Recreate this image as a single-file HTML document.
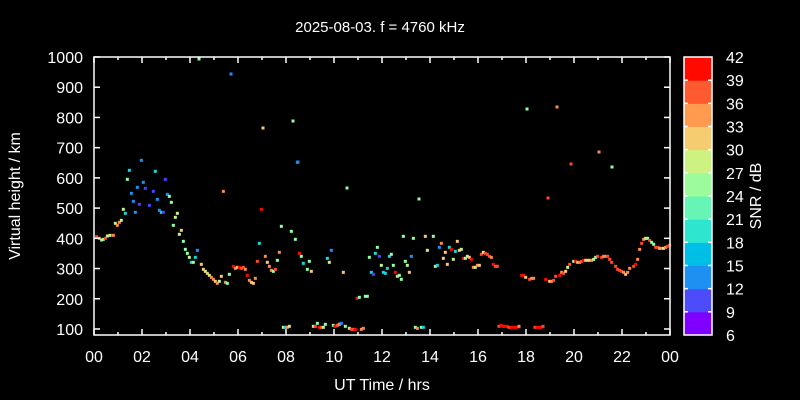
<!DOCTYPE html>
<html><head><meta charset="utf-8"><style>
html,body{margin:0;padding:0;background:#000;}
svg{display:block;font-family:"Liberation Sans",sans-serif;}
</style></head><body>
<svg id="s" width="800" height="400" xmlns="http://www.w3.org/2000/svg">
<rect width="800" height="400" fill="#000"/>
<text x="380" y="32" fill="#fff" font-size="15" text-anchor="middle">2025-08-03. f = 4760 kHz</text>
<text x="382" y="390" fill="#fff" font-size="16" text-anchor="middle">UT Time / hrs</text>
<text transform="translate(20,196) rotate(-90)" fill="#fff" font-size="16" text-anchor="middle">Virtual height / km</text>
<text transform="translate(761,196) rotate(-90)" fill="#fff" font-size="16" text-anchor="middle">SNR / dB</text>
<g id="pts"></g>
<g id="ax" stroke="#fff" stroke-width="1.5" fill="none"></g>
<g id="lab" fill="#fff" font-size="16"></g>
</svg>
<script>
var NS="http://www.w3.org/2000/svg";
function el(t,a,p){var e=document.createElementNS(NS,t);for(var k in a)e.setAttribute(k,a[k]);p.appendChild(e);return e;}
var ax=document.getElementById('ax'),lab=document.getElementById('lab'),pts=document.getElementById('pts');
var L=94,R=670,T=57,B=335;
el('rect',{x:L,y:T,width:R-L,height:B-T},ax);
for(var v=100;v<=1000;v+=100){var y=57+(1000-v)*0.3022;
 el('line',{x1:L,y1:y,x2:L+6,y2:y},ax);el('line',{x1:R,y1:y,x2:R-6,y2:y},ax);
 var t=el('text',{x:83,y:y+6,'text-anchor':'end'},lab);t.textContent=v;}
for(var h=0;h<=24;h++){var x=L+h*24,len=h%2?3:6;
 el('line',{x1:x,y1:B,x2:x,y2:B-len},ax);el('line',{x1:x,y1:T,x2:x,y2:T+len},ax);
 if(h%2==0){var t=el('text',{x:x,y:362,'text-anchor':'middle'},lab);t.textContent=('0'+(h%24)).slice(-2);}}
var cb=["#7f00ff","#4c4cfb","#1e90f2","#00bfe6","#2ee6d0","#66f5b5","#9cfc9c","#cdf282","#f6cc70","#ff9a4e","#ff5a30","#ff0a00"];
var bh=(B-57)/12;
for(var i=0;i<12;i++){el('rect',{x:684,y:B-(i+1)*bh,width:28,height:bh+0.5,fill:cb[i]},pts);}
el('rect',{x:684,y:57,width:28,height:B-57},ax);
for(var i=0;i<=12;i++){var y=B-i*bh;if(i>0&&i<12){el('line',{x1:684,y1:y,x2:688,y2:y},ax);el('line',{x1:712,y1:y,x2:708,y2:y},ax);}
 var t=el('text',{x:726,y:y+6},lab);t.textContent=6+3*i;}
var C={R:"#ff0a00",r:"#ff4a2a",o:"#ff8a4a",t:"#f8c878",y:"#c8f088",g:"#90ffa8",c:"#18d8d8",b:"#1e90f2",p:"#5040ff"};
function add(list,ox,oy){list.forEach(function(q){el('rect',{x:ox+q[0]/3-1.5,y:oy+q[1]/3-1.5,width:3,height:3,fill:C[q[2]]},pts);});}
add([[20,260,'r'],[28,265,'o'],[35,270,'y'],[40,268,'g'],[46,265,'r'],[52,258,'y'],[60,256,'y'],[70,256,'o'],[76,220,'y'],[82,226,'o'],[88,217,'o'],[94,211,'y'],[100,178,'y'],[106,190,'c'],[112,88,'g'],[118,61,'c'],[124,130,'b'],[130,154,'b'],[136,187,'b'],[142,112,'b'],[148,163,'p'],[154,31,'b'],[160,97,'b'],[166,115,'p'],[178,166,'p'],[190,124,'p'],[196,64,'c'],[202,148,'b'],[208,181,'b'],[214,187,'c'],[220,187,'p'],[226,88,'p'],[232,133,'b'],[238,139,'g'],[244,157,'g'],[250,226,'g'],[256,202,'y'],[262,190,'y'],[268,253,'y'],[274,241,'t'],[280,274,'g'],[286,298,'g'],[292,310,'g'],[298,322,'y'],[304,337,'c'],[310,337,'g'],[316,322,'c'],[322,301,'b'],[334,343,'t'],[340,358,'t'],[346,364,'y'],[352,370,'t'],[358,376,'y'],[364,382,'o'],[370,388,'o'],[376,394,'t'],[382,400,'o'],[388,394,'y'],[394,379,'t'],[400,124,'o'],[406,397,'o'],[412,400,'g'],[418,373,'g'],[430,349,'R'],[436,355,'o'],[442,352,'t'],[448,352,'R'],[454,355,'r'],[460,352,'r'],[466,358,'o'],[472,376,'R'],[478,391,'o'],[484,397,'t'],[490,400,'t'],[496,385,'o'],[502,334,'r'],[508,280,'c'],[514,178,'R'],[526,319,'o'],[532,337,'t'],[538,349,'o'],[544,361,'o'],[550,364,'g'],[556,358,'r'],[562,331,'g'],[568,307,'o'],[574,229,'g'],[580,532,'y'],[586,532,'c'],[592,532,'o'],[598,529,'y'],[604,244,'g'],[616,268,'g'],[622,37,'b'],[628,310,'R'],[634,319,'g'],[640,340,'c'],[652,358,'g'],[658,334,'g'],[664,364,'t'],[670,529,'y'],[676,529,'r'],[682,520,'g'],[688,532,'R'],[694,532,'r'],[700,532,'y'],[706,523,'g'],[712,325,'c'],[718,337,'y'],[724,301,'b'],[730,526,'g'],[736,529,'R'],[742,526,'r'],[748,523,'o']],90,150);
add([[25,157,'t'],[66,235,'R'],[73,232,'g'],[91,229,'g'],[97,229,'g'],[103,112,'g'],[109,157,'c'],[115,163,'p'],[121,100,'c'],[127,82,'g'],[133,109,'p'],[139,136,'y'],[145,157,'c'],[151,160,'c'],[157,145,'c'],[163,109,'c'],[169,103,'g'],[175,136,'g'],[181,157,'R'],[187,169,'t'],[193,166,'g'],[199,178,'g'],[205,49,'g'],[211,124,'g'],[217,136,'y'],[223,157,'t'],[229,109,'b'],[235,55,'g'],[241,322,'g'],[247,325,'o'],[259,322,'g'],[265,322,'c'],[271,49,'t'],[277,91,'y'],[295,49,'g'],[301,139,'y'],[307,136,'c'],[313,82,'b'],[319,70,'o'],[325,115,'t'],[331,97,'t'],[337,133,'t'],[343,82,'c'],[349,88,'R'],[355,118,'y'],[361,94,'c'],[367,64,'t'],[373,91,'t'],[379,88,'y'],[385,115,'R'],[391,115,'y'],[397,109,'g'],[403,112,'t'],[409,118,'R'],[415,142,'o'],[421,142,'y'],[427,136,'o'],[433,136,'t'],[439,103,'r'],[445,97,'y'],[451,100,'r'],[457,103,'r'],[463,109,'r'],[469,112,'o'],[475,133,'R'],[481,139,'r'],[487,139,'r'],[0,319,'R'],[7,316,'r'],[13,313,'o'],[19,310,'b'],[31,319,'g'],[43,325,'y'],[49,328,'r'],[55,328,'r'],[61,328,'R'],[79,328,'o'],[85,325,'o']],335,220);
add([[5,139,'r'],[80,166,'R'],[86,166,'R'],[92,172,'t'],[104,178,'r'],[110,175,'o'],[116,175,'o'],[152,178,'R'],[164,184,'t'],[170,184,'o'],[176,181,'r'],[182,169,'r'],[194,166,'R'],[200,157,'o'],[206,160,'r'],[212,154,'t'],[218,142,'y'],[224,133,'r'],[236,124,'g'],[242,124,'R'],[248,127,'t'],[254,127,'o'],[260,124,'r'],[266,121,'R'],[272,121,'t'],[278,121,'t'],[284,121,'t'],[290,121,'o'],[296,118,'y'],[302,112,'g'],[308,109,'r'],[320,112,'r'],[326,109,'o'],[332,109,'o'],[338,109,'r'],[344,118,'r'],[350,127,'r'],[362,139,'r'],[368,148,'r'],[374,151,'r'],[380,154,'r'],[386,157,'o'],[392,163,'t'],[398,157,'o'],[404,145,'o'],[416,139,'r'],[422,133,'R'],[428,118,'o'],[434,88,'o'],[440,70,'r'],[446,58,'o'],[452,55,'y'],[458,55,'g'],[464,61,'r'],[470,67,'g'],[476,73,'g'],[482,82,'r'],[488,82,'r'],[494,85,'t'],[500,85,'o'],[506,85,'y'],[512,82,'o'],[518,79,'r'],[524,76,'r'],[12,319,'r'],[18,316,'R'],[24,319,'R'],[30,319,'R'],[36,319,'R'],[42,322,'r'],[48,322,'R'],[54,322,'R'],[60,322,'R'],[66,322,'R'],[72,319,'o'],[120,322,'r'],[126,322,'R'],[132,322,'R'],[138,322,'R'],[144,319,'r']],495,220);
add([[199,59,'g'],[231,74,'b'],[263,128,'t'],[293,121,'g'],[298,162,'b'],[347,188,'g'],[419,199,'g'],[527,109,'g'],[557,107,'o'],[548,198,'r'],[571,164,'r'],[599,152,'o'],[612,167,'g']].map(function(q){return [q[0]*3,q[1]*3,q[2]];}),0,0);
</script>
</body></html>
